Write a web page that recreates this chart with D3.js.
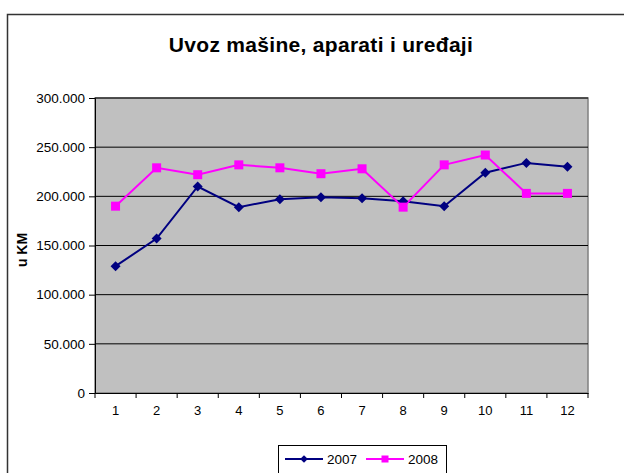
<!DOCTYPE html>
<html><head><meta charset="utf-8">
<script src="https://cdn.jsdelivr.net/npm/d3@7"></script>
<style>body{margin:0;background:#fff}svg{display:block}text{font-family:"Liberation Sans",Arial,sans-serif}</style>
</head><body><svg id="c" width="624" height="473"></svg>
<script>
const months = ["1","2","3","4","5","6","7","8","9","10","11","12"];
const s2007 = [129000,157000,210000,189000,197000,199000,198000,195000,190000,224000,234000,230000];
const s2008 = [190000,229000,222000,232000,229000,223000,228000,189000,232000,242000,203000,203000];
const yTicks = [0,50000,100000,150000,200000,250000,300000];
const seriesNames = ["2007","2008"];

const svg = d3.select("#c");
svg.append("rect").attr("x",7.5).attr("y",14.5).attr("width",630).attr("height",470)
  .attr("fill","#fff").attr("stroke","#333").attr("stroke-width",1.5);

svg.append("text").attr("x",321).attr("y",52).attr("text-anchor","middle")
  .attr("font-size",21).attr("font-weight","bold").attr("letter-spacing",0.3).text("Uvoz mašine, aparati i uređaji");

const L=95, R=588, T=98, B=393;
const x = d3.scaleBand().domain(months).range([L,R]);
const y = d3.scaleLinear().domain([0,300000]).range([B,T]);

svg.append("rect").attr("x",L).attr("y",T).attr("width",R-L).attr("height",B-T)
  .attr("fill","#c0c0c0").attr("stroke","#808080").attr("stroke-width",1.5);

svg.append("g").selectAll("line").data(yTicks.filter(d=>d>0)).join("line")
  .attr("x1",L).attr("x2",R).attr("y1",d=>y(d)).attr("y2",d=>y(d))
  .attr("stroke","#000").attr("stroke-width",1);

const fmt = d => d===0 ? "0" : d3.format(",")(d).replace(/,/g,".");
const ya = svg.append("g").attr("transform",`translate(${L},0)`)
  .call(d3.axisLeft(y).tickValues(yTicks).tickSize(6).tickPadding(4).tickFormat(fmt));
ya.select(".domain").attr("stroke","#000");
ya.selectAll("text").attr("font-size",13.5).attr("fill","#000").attr("font-family","Liberation Sans, Arial");

const xa = svg.append("g").attr("transform",`translate(0,${B})`)
  .call(d3.axisBottom(x).tickSize(0).tickPadding(13));
xa.select(".domain").attr("stroke","#000");
xa.selectAll("text").attr("font-size",13).attr("fill","#000").attr("font-family","Liberation Sans, Arial");
svg.append("g").selectAll("line").data(months.concat(["end"])).join("line")
  .attr("x1",(d,i)=>L+i*x.step()).attr("x2",(d,i)=>L+i*x.step())
  .attr("y1",B).attr("y2",B+5).attr("stroke","#000");

svg.append("text").attr("transform","translate(27,250) rotate(-90)").attr("text-anchor","middle")
  .attr("font-size",14).attr("font-weight","bold").text("u KM");

const cx = d => x(d)+x.bandwidth()/2;
const line = d3.line().x((d,i)=>cx(months[i])).y(d=>y(d));
const colors = ["#000080","#ff00ff"];
[s2007,s2008].forEach((s,k)=>{
  svg.append("path").datum(s).attr("d",line).attr("fill","none").attr("stroke",colors[k]).attr("stroke-width",2);
});
svg.append("g").selectAll("path").data(s2007).join("path")
  .attr("transform",(d,i)=>`translate(${cx(months[i])},${y(d)}) rotate(45)`)
  .attr("d",d3.symbol().type(d3.symbolSquare).size(50)).attr("fill",colors[0]);
svg.append("g").selectAll("rect").data(s2008).join("rect")
  .attr("x",(d,i)=>cx(months[i])-4.5).attr("y",d=>y(d)-4.5).attr("width",9).attr("height",9).attr("fill",colors[1]);

const lg = svg.append("g");
lg.append("rect").attr("x",278.5).attr("y",445.5).attr("width",168).attr("height",28).attr("fill","#fff").attr("stroke","#000");
seriesNames.forEach((n,k)=>{
  const x0 = 285 + k*81;
  lg.append("line").attr("x1",x0).attr("x2",x0+38).attr("y1",459).attr("y2",459).attr("stroke",colors[k]).attr("stroke-width",2);
  if(k===0) lg.append("path").attr("transform",`translate(${x0+19},459) rotate(45)`).attr("d",d3.symbol().type(d3.symbolSquare).size(30)).attr("fill",colors[k]);
  else lg.append("rect").attr("x",x0+19-3.5).attr("y",455.5).attr("width",7).attr("height",7).attr("fill",colors[k]);
  lg.append("text").attr("x",x0+42).attr("y",464).attr("font-size",13.5).text(n);
});
</script></body></html>
